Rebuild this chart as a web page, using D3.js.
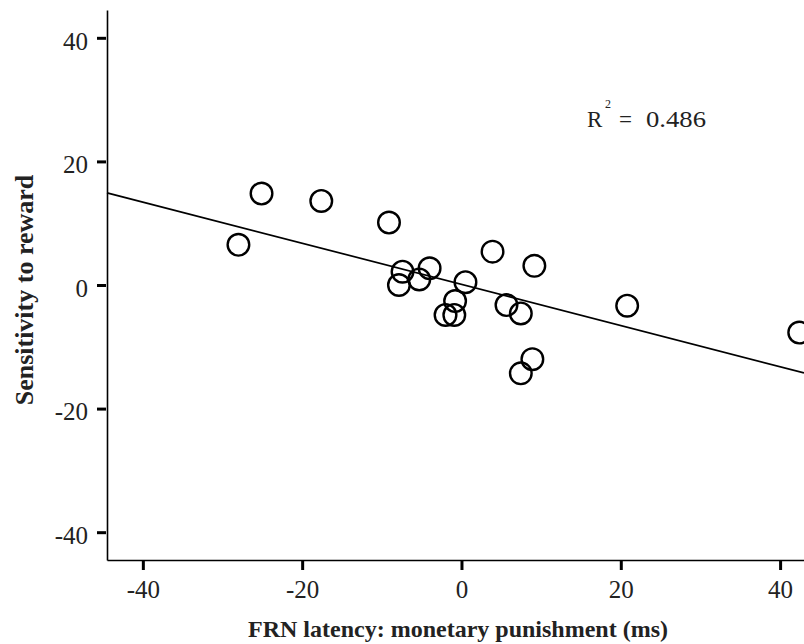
<!doctype html>
<html>
<head>
<meta charset="utf-8" />
<script src="https://d3js.org/d3.v7.min.js"></script>
<style>
  body { margin: 0; padding: 0; background: #fff; }
  svg text { font-family: "Liberation Serif", "DejaVu Serif", serif; }
</style>
</head>
<body>
<script>
  // FRN latency (ms) vs sensitivity to reward
  const latency = [-25.1, -17.6, -9.1, -28.0, -7.4, -7.85, -4.0, -5.3, 3.9, 9.15,
                   0.5, -0.8, -2.0, -0.9, 5.65, 7.45, 8.9, 7.45, 20.8, 42.4];
  const sensitivity = [14.8, 13.6, 10.1, 6.5, 2.15, 0.0, 2.7, 0.9, 5.4, 3.1,
                       0.45, -2.6, -4.85, -4.85, -3.25, -4.6, -12.0, -14.3, -3.35, -7.7];
  const xTicks = [-40, -20, 0, 20, 40];
  const yTicks = [-40, -20, 0, 20, 40];
  // fit line
  const fitIntercept = 0.1;
  const fitSlope = -0.333;
  const rSquared = "0.486";

  const width = 804, height = 644;
  const svg = d3.select("body").append("svg")
      .attr("width", width).attr("height", height);

  const x = d3.scaleLinear().domain([-44.5, 43]).range([107, 804]);
  const y = d3.scaleLinear().domain([-44.5, 44.5]).range([560, 10]);

  const points = latency.map((d, i) => ({ x: d, y: sensitivity[i] }));

  // regression line
  const xd = x.domain();
  svg.append("line")
      .attr("x1", x(xd[0])).attr("y1", y(fitIntercept + fitSlope * xd[0]))
      .attr("x2", x(xd[1])).attr("y2", y(fitIntercept + fitSlope * xd[1]))
      .attr("stroke", "#000").attr("stroke-width", 1.7);

  // points
  svg.append("g").selectAll("circle")
      .data(points).enter().append("circle")
      .attr("cx", d => x(d.x))
      .attr("cy", d => y(d.y))
      .attr("r", 10.8)
      .attr("fill", "none")
      .attr("stroke", "#000")
      .attr("stroke-width", 2.4);

  // axes
  const fmt = d => String(d);
  const xAxis = svg.append("g").attr("transform", "translate(0,560)")
      .call(d3.axisBottom(x).tickValues(xTicks).tickFormat(fmt)
        .tickSize(10).tickPadding(10).tickSizeOuter(0));
  const yAxis = svg.append("g").attr("transform", "translate(107,0)")
      .call(d3.axisLeft(y).tickValues(yTicks).tickFormat(fmt)
        .tickSize(10).tickPadding(9).tickSizeOuter(0));

  [xAxis, yAxis].forEach(g => {
    g.select(".domain").attr("stroke", "#000").attr("stroke-width", 1.6);
    g.selectAll(".tick line").attr("stroke", "#000").attr("stroke-width", 3);
    g.selectAll(".tick text")
      .attr("fill", "#222")
      .style("font-size", "25px")
      .style("font-family", "'Liberation Serif', serif");
  });
  xAxis.selectAll(".tick line").attr("y1", 1);
  yAxis.selectAll(".tick line").attr("x1", -1);
  yAxis.selectAll(".tick text").attr("dy", "0.45em");

  // axis titles
  svg.append("text")
      .attr("x", 458).attr("y", 637)
      .attr("text-anchor", "middle")
      .style("font-size", "24px").style("font-weight", "bold")
      .attr("fill", "#222")
      .text("FRN latency: monetary punishment (ms)");

  svg.append("text")
      .attr("transform", "translate(33,290) rotate(-90)")
      .attr("text-anchor", "middle")
      .style("font-size", "26px").style("font-weight", "bold")
      .attr("fill", "#222")
      .text("Sensitivity to reward");

  // R squared label
  const r2 = svg.append("g").attr("fill", "#222");
  r2.append("text").attr("x", 587).attr("y", 127).style("font-size", "23px").text("R");
  r2.append("text").attr("x", 605).attr("y", 108).style("font-size", "12px").text("2");
  r2.append("text").attr("x", 619).attr("y", 127).style("font-size", "23px").text("=");
  r2.append("text").attr("x", 646).attr("y", 127).style("font-size", "23px")
      .attr("textLength", 60).attr("lengthAdjust", "spacingAndGlyphs").text(rSquared);
</script>
</body>
</html>
